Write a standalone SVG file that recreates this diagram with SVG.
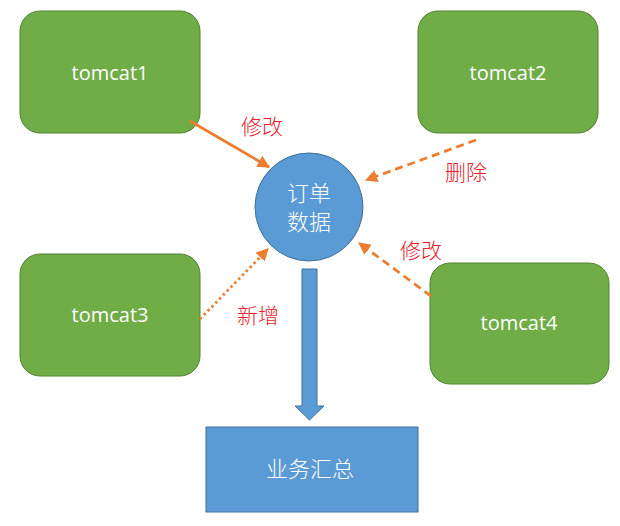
<svg xmlns="http://www.w3.org/2000/svg" width="620" height="526" viewBox="0 0 620 526">
<style>
.tc{fill:#70AD47;stroke:#538135;stroke-width:1}
.tt{font-family:"Open Sans","Noto Sans",sans-serif;font-size:20px;fill:#FFFFFF;text-anchor:middle}
.cn{font-family:"Noto Sans CJK SC",sans-serif;font-size:22px;font-weight:300;fill:#FFFFFF;text-anchor:middle}
.lb{font-family:"Noto Sans CJK SC",sans-serif;font-size:21px;font-weight:300;fill:#E8202A;text-anchor:middle}
.ar{stroke:#ED7D31;stroke-width:2.8;fill:none;marker-end:url(#ah)}
</style>
<defs>
<marker id="ah" viewBox="0 0 10 10" refX="9" refY="5" markerWidth="4.5" markerHeight="4.5" orient="auto" markerUnits="strokeWidth">
<path d="M0,0 L10,5 L0,10 z" fill="#ED7D31"/>
</marker>
</defs>
<rect width="620" height="526" fill="#FFFFFF"/>
<g id="tomcat1"><rect class="tc" x="20" y="11" width="180" height="122" rx="20"/><text class="tt" x="110" y="80">tomcat1</text></g>
<g id="tomcat2"><rect class="tc" x="418" y="11" width="180" height="122" rx="20"/><text class="tt" x="508" y="80">tomcat2</text></g>
<g id="tomcat3"><rect class="tc" x="20" y="254" width="180" height="122" rx="20"/><text class="tt" x="110" y="322">tomcat3</text></g>
<g id="tomcat4"><rect class="tc" x="430" y="263" width="179" height="121" rx="20"/><text class="tt" x="519" y="330">tomcat4</text></g>
<g id="order"><circle cx="309" cy="207" r="54" fill="#5B9BD5" stroke="#41719C" stroke-width="1"/><text class="cn" x="309" y="201">订单</text><text class="cn" x="309" y="230">数据</text></g>
<g id="summary"><rect x="206" y="427" width="212" height="85" fill="#5B9BD5" stroke="#41719C" stroke-width="1"/><text class="cn" x="310" y="477">业务汇总</text></g>
<g id="connectors">
<line class="ar" x1="190" y1="121" x2="269" y2="167"/>
<line class="ar" x1="476" y1="140" x2="366" y2="180" stroke-dasharray="8,5"/>
<line class="ar" x1="200" y1="319" x2="268" y2="249" stroke-dasharray="2.5,3"/>
<line class="ar" x1="431" y1="296" x2="359" y2="243" stroke-dasharray="8,5"/>
<path d="M302,269 L317,269 L317,406 L324,406 L309.5,420 L295,406 L302,406 z" fill="#5B9BD5" stroke="#41719C" stroke-width="1"/>
</g>
<g id="labels">
<text class="lb" x="262" y="134">修改</text>
<text class="lb" x="466" y="180">删除</text>
<text class="lb" x="421" y="258">修改</text>
<text class="lb" x="258" y="323">新增</text>
</g>
</svg>
